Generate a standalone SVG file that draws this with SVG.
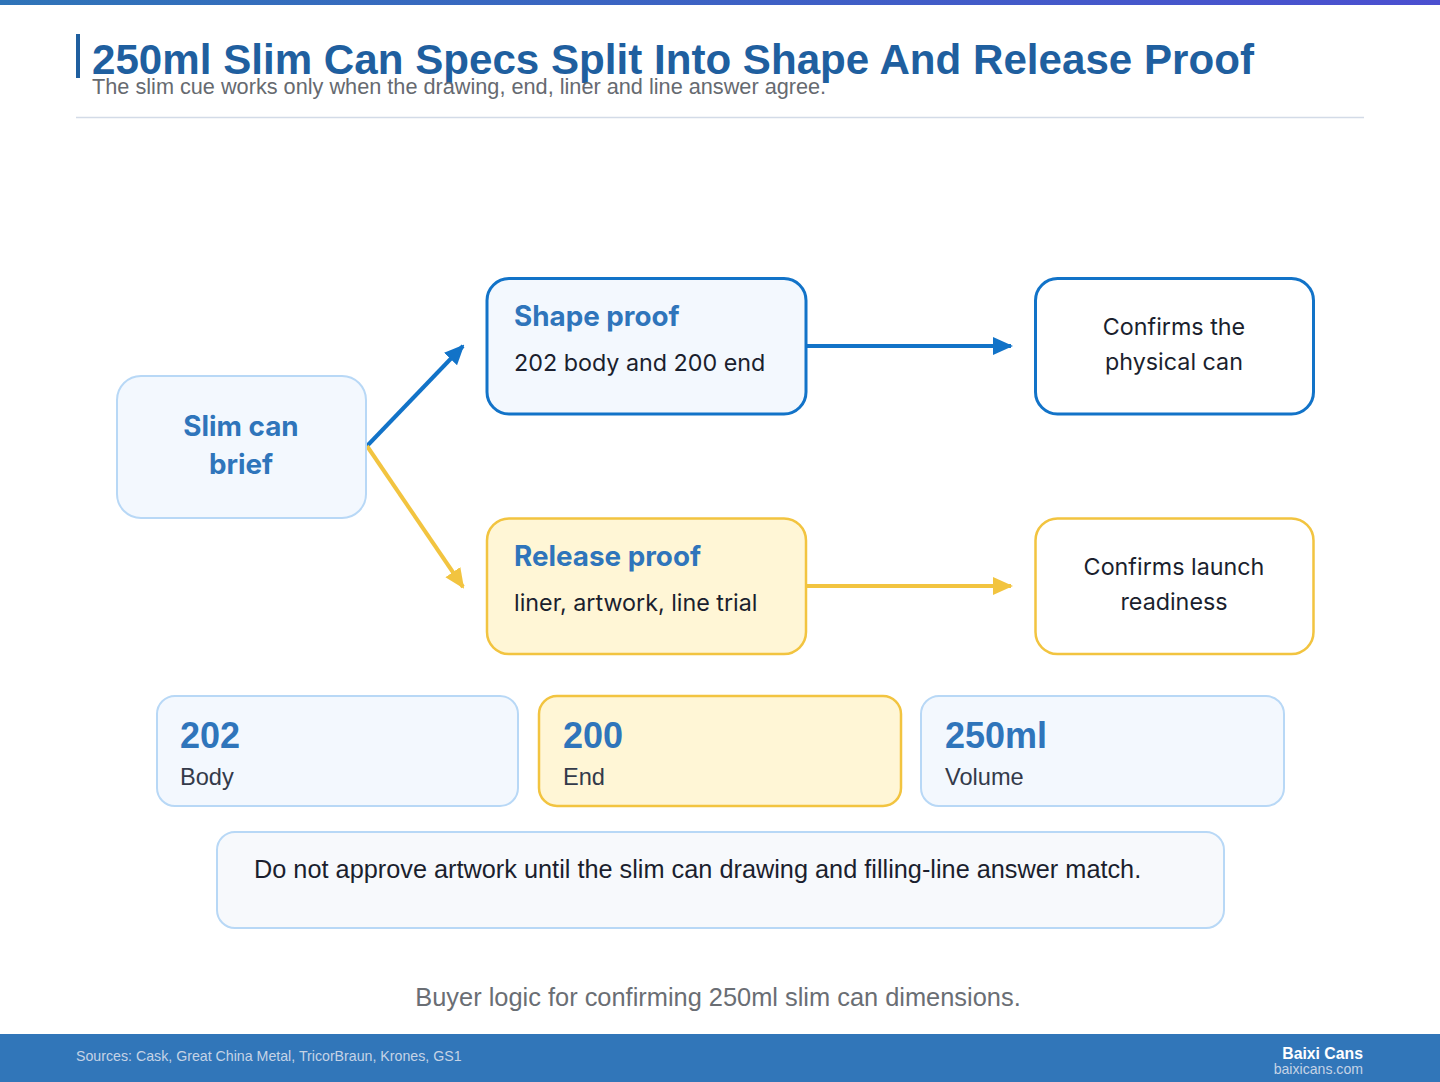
<svg xmlns="http://www.w3.org/2000/svg" width="1440" height="1082" viewBox="0 0 1440 1082">
<defs>
<linearGradient id="topbar" x1="0" y1="0" x2="1" y2="0">
<stop offset="0" stop-color="#2f74b8"/>
<stop offset="1" stop-color="#4b4fd0"/>
</linearGradient>
<marker id="ahBlue" viewBox="0 0 20 20" refX="18" refY="10" markerWidth="20" markerHeight="20" markerUnits="userSpaceOnUse" orient="auto">
<path d="M0,1 L20,10 L0,19 Z" fill="#1273c8"/>
</marker>
<marker id="ahYellow" viewBox="0 0 20 20" refX="18" refY="10" markerWidth="20" markerHeight="20" markerUnits="userSpaceOnUse" orient="auto">
<path d="M0,1 L20,10 L0,19 Z" fill="#f2c440"/>
</marker>
</defs>
<style>
.title{font-family:"Liberation Sans",Arial,sans-serif;font-weight:bold;font-size:42.5px;fill:#1f5f9f}
.sub{font-family:"Liberation Sans",Arial,sans-serif;font-size:21.7px;fill:#666a70}
.nodeTitle{font-family:Inter,"Noto Sans",sans-serif;font-weight:bold;font-size:27.8px;fill:#2f75bb}
.nodeText{font-family:Inter,"Noto Sans",sans-serif;font-size:23.3px;fill:#1b1f2e}
.statNum{font-family:"Liberation Sans",Arial,sans-serif;font-weight:bold;font-size:36px;fill:#2f75bb}
.statLbl{font-family:"Liberation Sans",Arial,sans-serif;font-size:23.6px;fill:#333a4a}
.note{font-family:"Liberation Sans",Arial,sans-serif;font-size:25.3px;fill:#1b1f2e}
.cap{font-family:"Liberation Sans",Arial,sans-serif;font-size:25.4px;fill:#6a6e74}
.blueSoft{fill:#f3f8fe;stroke:#b8d8f6;stroke-width:2}
.blueStrong{fill:#f3f8fe;stroke:#1273c8;stroke-width:3}
.blueOut{fill:#ffffff;stroke:#1273c8;stroke-width:3}
.yellowFill{fill:#fff6d6;stroke:#f2c440;stroke-width:2.5}
.yellowOut{fill:#ffffff;stroke:#f2c440;stroke-width:2.5}
</style>
<rect x="0" y="0" width="1440" height="1082" fill="#ffffff"/>
<rect x="0" y="0" width="1440" height="5" fill="url(#topbar)"/>
<g id="header">
<rect x="76" y="34" width="4" height="44" fill="#1f5f9f"/>
<text class="title" x="92" y="74" textLength="1162" lengthAdjust="spacingAndGlyphs">250ml Slim Can Specs Split Into Shape And Release Proof</text>
<text class="sub" x="92" y="94">The slim cue works only when the drawing, end, liner and line answer agree.</text>
<line x1="76" y1="117.5" x2="1364" y2="117.5" stroke="#d3dbe7" stroke-width="1.5"/>
</g>
<g id="connectors" fill="none" stroke-width="4">
<line x1="367" y1="446" x2="463" y2="346" stroke="#1273c8" marker-end="url(#ahBlue)"/>
<line x1="367" y1="446" x2="463" y2="587" stroke="#f2c440" marker-end="url(#ahYellow)"/>
<line x1="806" y1="346" x2="1011" y2="346" stroke="#1273c8" marker-end="url(#ahBlue)"/>
<line x1="806" y1="586" x2="1011" y2="586" stroke="#f2c440" marker-end="url(#ahYellow)"/>
</g>
<g id="node-brief">
<rect class="blueSoft" x="117" y="376" width="249" height="142" rx="24"/>
<text class="nodeTitle" x="241" y="436" text-anchor="middle">Slim can</text>
<text class="nodeTitle" x="241" y="474" text-anchor="middle">brief</text>
</g>
<g id="node-shape">
<rect class="blueStrong" x="487" y="278.5" width="319" height="135.5" rx="22"/>
<text class="nodeTitle" x="514" y="326">Shape proof</text>
<text class="nodeText" x="514" y="371">202 body and 200 end</text>
</g>
<g id="node-physical">
<rect class="blueOut" x="1035.5" y="278.5" width="278" height="135.5" rx="22"/>
<text class="nodeText" x="1174" y="335" text-anchor="middle">Confirms the</text>
<text class="nodeText" x="1174" y="370" text-anchor="middle">physical can</text>
</g>
<g id="node-release">
<rect class="yellowFill" x="487" y="518.5" width="319" height="135.5" rx="22"/>
<text class="nodeTitle" x="514" y="566">Release proof</text>
<text class="nodeText" x="514" y="611">liner, artwork, line trial</text>
</g>
<g id="node-launch">
<rect class="yellowOut" x="1035.5" y="518.5" width="278" height="135.5" rx="22"/>
<text class="nodeText" x="1174" y="575" text-anchor="middle">Confirms launch</text>
<text class="nodeText" x="1174" y="610" text-anchor="middle">readiness</text>
</g>
<g id="stat-body">
<rect class="blueSoft" x="157" y="696" width="361" height="110" rx="18"/>
<text class="statNum" x="180" y="748">202</text>
<text class="statLbl" x="180" y="785">Body</text>
</g>
<g id="stat-end">
<rect class="yellowFill" x="539" y="696" width="362" height="110" rx="18"/>
<text class="statNum" x="563" y="748">200</text>
<text class="statLbl" x="563" y="785">End</text>
</g>
<g id="stat-volume">
<rect class="blueSoft" x="921" y="696" width="363" height="110" rx="18"/>
<text class="statNum" x="945" y="748">250ml</text>
<text class="statLbl" x="945" y="785">Volume</text>
</g>
<g id="note">
<rect x="217" y="832" width="1007" height="96" rx="18" fill="#f7f9fc" stroke="#b8d8f6" stroke-width="2"/>
<text class="note" x="254" y="878">Do not approve artwork until the slim can drawing and filling-line answer match.</text>
</g>
<g id="caption">
<text class="cap" x="718" y="1006" text-anchor="middle">Buyer logic for confirming 250ml slim can dimensions.</text>
</g>
<g id="footer">
<rect x="0" y="1034" width="1440" height="48" fill="#3176b9"/>
<text x="76" y="1061" font-family="Liberation Sans, Arial, sans-serif" font-size="14.2" fill="#c5d3e6">Sources: Cask, Great China Metal, TricorBraun, Krones, GS1</text>
<text x="1363" y="1059" text-anchor="end" font-family="Liberation Sans, Arial, sans-serif" font-size="15.8" font-weight="bold" fill="#ffffff">Baixi Cans</text>
<text x="1363" y="1074" text-anchor="end" font-family="Liberation Sans, Arial, sans-serif" font-size="14.1" fill="#c5d3e6">baixicans.com</text>
</g>
</svg>
